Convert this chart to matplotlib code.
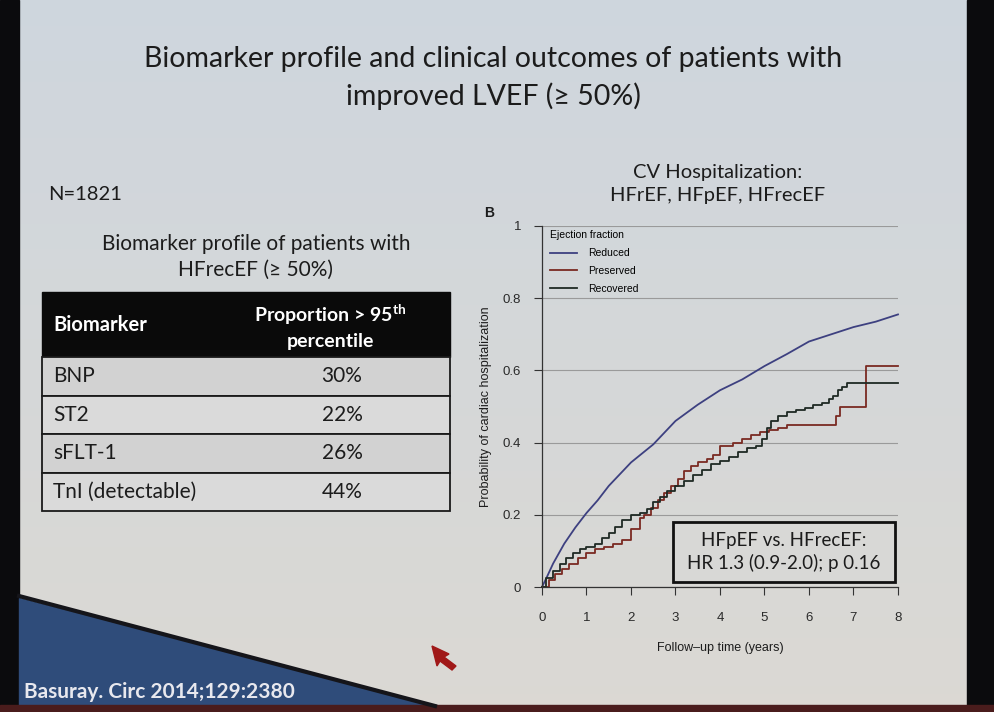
import numpy as np
import matplotlib.pyplot as plt
from matplotlib.patches import Rectangle, Polygon

# --- slide data ---
title = "Biomarker profile and clinical outcomes of patients with\nimproved LVEF (\u2265 50%)"
n_text = "N=1821"
table_title = "Biomarker profile of patients with\nHFrecEF (\u2265 50%)"
biomarkers = ["BNP", "ST2", "sFLT-1", "TnI (detectable)"]
proportions = ["30%", "22%", "26%", "44%"]

# --- KM curves ---
t_red = [0, 0.1, 0.25, 0.5, 0.75, 1, 1.25, 1.5, 2, 2.5, 3, 3.5, 4, 4.5, 5, 5.5, 6, 6.5, 7, 7.5, 8]
p_red = [0, 0.025, 0.065, 0.12, 0.165, 0.205, 0.24, 0.28, 0.345, 0.395, 0.46, 0.505,
         0.545, 0.575, 0.612, 0.645, 0.68, 0.70, 0.72, 0.735, 0.755]

t_pres = [0, 0.15, 0.3, 0.45, 0.6, 0.8, 1.0, 1.2, 1.4, 1.6, 1.8, 2.0, 2.2, 2.3, 2.45, 2.6,
          2.75, 2.9, 3.05, 3.2, 3.35, 3.5, 3.7, 3.85, 4.0, 4.3, 4.5, 4.7, 4.9, 5.1, 5.3, 5.5,
          6.6, 6.7, 7.27, 8.0]
p_pres = [0, 0.02, 0.035, 0.05, 0.065, 0.08, 0.095, 0.105, 0.11, 0.12, 0.13, 0.16, 0.19,
          0.2, 0.22, 0.24, 0.26, 0.28, 0.3, 0.32, 0.335, 0.345, 0.355, 0.365, 0.39, 0.40,
          0.41, 0.42, 0.43, 0.435, 0.44, 0.45, 0.475, 0.50, 0.612, 0.612]

t_rec = [0, 0.1, 0.25, 0.4, 0.55, 0.7, 0.85, 1.0, 1.2, 1.35, 1.5, 1.65, 1.8, 2.0, 2.2,
         2.35, 2.5, 2.65, 2.8, 3.0, 3.2, 3.4, 3.6, 3.8, 4.0, 4.2, 4.4, 4.6, 4.8, 4.95, 5.05,
         5.15, 5.3, 5.5, 5.7, 5.9, 6.1, 6.3, 6.45, 6.55, 6.65, 6.75, 6.85, 8.0]
p_rec = [0, 0.025, 0.045, 0.065, 0.08, 0.095, 0.105, 0.11, 0.12, 0.135, 0.15, 0.165,
         0.185, 0.2, 0.205, 0.215, 0.235, 0.25, 0.265, 0.28, 0.295, 0.31, 0.325, 0.34,
         0.35, 0.36, 0.375, 0.385, 0.39, 0.41, 0.44, 0.46, 0.475, 0.485, 0.49, 0.495,
         0.505, 0.51, 0.52, 0.53, 0.545, 0.555, 0.565, 0.565]

x_ticks = [0, 1, 2, 3, 4, 5, 6, 7, 8]
y_ticks = [0, 0.2, 0.4, 0.6, 0.8, 1.0]
y_ticklabels = ["0", "0.2", "0.4", "0.6", "0.8", "1"]

c_red = "#3d4080"
c_pres = "#7a2a22"
c_rec = "#1f2a24"
slide_font = "Lato"
fig_font = "Liberation Sans"
ink = "#1c1c1c"

fig = plt.figure(figsize=(9.95, 7.12), dpi=100)

# background layer in pixel coords
bg = fig.add_axes([0, 0, 1, 1], zorder=0)
bg.set_xlim(0, 995)
bg.set_ylim(712, 0)
bg.axis("off")
grad = np.linspace(0, 1, 256).reshape(-1, 1)
top = np.array([0.81, 0.84, 0.87])
bot = np.array([0.86, 0.85, 0.83])
img = top + (bot - top) * grad[..., None]
bg.imshow(img, extent=(0, 995, 712, 0), aspect="auto")
bg.add_patch(Rectangle((0, 0), 19, 712, color="#0b0b0d"))
bg.add_patch(Rectangle((967, 0), 28, 712, color="#0b0b0d"))
bg.add_patch(Polygon([(19, 598), (19, 706), (435, 706)], color="#2f4c7a"))
bg.plot([19, 435], [596, 706], color="#15151a", lw=3)
bg.add_patch(Rectangle((0, 705), 995, 7, color="#4a1c1c"))
bg.add_patch(Polygon([(432, 646), (449, 654), (444, 657), (456, 666), (452, 670),
                      (440, 661), (437, 666)], color="#a01818"))

# slide text
bg.text(493, 78, title, ha="center", va="center", fontsize=20.5, family=slide_font,
        color=ink, linespacing=1.5)
bg.text(48, 195, n_text, ha="left", va="center", fontsize=14.5, family=slide_font,
        color=ink)
bg.text(256, 257, table_title, ha="center", va="center", fontsize=15,
        family=slide_font, color=ink, linespacing=1.35)
bg.text(718, 184, "CV Hospitalization:\nHFrEF, HFpEF, HFrecEF", ha="center",
        va="center", fontsize=14.5, family=slide_font, color=ink, linespacing=1.45)
bg.text(489, 213, "B", ha="center", va="center", fontsize=10, weight="bold",
        family=fig_font, color=ink)
bg.text(24, 692, "Basuray. Circ 2014;129:2380", ha="left", va="center", fontsize=15,
        weight="bold", family=slide_font, color="#e8e8ee")

# table
tx0, tx1 = 42, 450
head_top, head_bot = 292, 357
row_h = 38.5
bg.add_patch(Rectangle((tx0, head_top), tx1 - tx0, head_bot - head_top, color="#0a0a0a"))
bg.text(53, 325, "Biomarker", ha="left", va="center", fontsize=14.5, weight="bold",
        family=slide_font, color="white")
bg.text(330, 326, "Proportion > 95$^{\\mathregular{th}}$\npercentile", ha="center",
        va="center", fontsize=14, weight="bold", family=slide_font, color="white",
        linespacing=1.45)
for i, (b, p) in enumerate(zip(biomarkers, proportions)):
    y0 = head_bot + i * row_h
    shade = "#d2d2d2" if i % 2 == 0 else "#dadada"
    bg.add_patch(Rectangle((tx0, y0), tx1 - tx0, row_h, facecolor=shade,
                           edgecolor="#1a1a1a", lw=1.3))
    bg.text(53, y0 + row_h / 2, b, ha="left", va="center", fontsize=15,
            family=slide_font, color=ink)
    bg.text(342, y0 + row_h / 2, p, ha="center", va="center", fontsize=15,
            family=slide_font, color=ink)

# KM plot
ax = fig.add_axes([542 / 995, 1 - 587 / 712, 356 / 995, 361 / 712], zorder=2)
ax.patch.set_alpha(0)
ax.plot(t_red, p_red, color=c_red, lw=1.3, label="Reduced", clip_on=False)
ax.plot(t_pres, p_pres, color=c_pres, lw=1.3, drawstyle="steps-post",
        label="Preserved", clip_on=False)
ax.plot(t_rec, p_rec, color=c_rec, lw=1.3, drawstyle="steps-post",
        label="Recovered", clip_on=False)
ax.set_xlim(0, 8)
ax.set_ylim(0, 1)
ax.set_xticks(x_ticks)
ax.set_yticks(y_ticks)
ax.set_yticklabels(y_ticklabels)
for sp in ["top", "right"]:
    ax.spines[sp].set_visible(False)
for sp in ["left", "bottom"]:
    ax.spines[sp].set_color("#333333")
    ax.spines[sp].set_linewidth(0.9)
ax.yaxis.grid(True, color="#9a9a9a", lw=0.8)
ax.set_axisbelow(True)
ax.tick_params(axis="x", direction="out", length=6, pad=12, labelsize=9.5,
               color="#333333", labelcolor="#2a2a2a")
ax.tick_params(axis="y", direction="out", length=6, pad=9, labelsize=9.5,
               color="#333333", labelcolor="#2a2a2a")
for lab in ax.get_xticklabels() + ax.get_yticklabels():
    lab.set_family(fig_font)
ax.set_xlabel("Follow\u2013up time (years)", fontsize=9, family=fig_font,
              color=ink, labelpad=13)
ax.set_ylabel("Probability of cardiac hospitalization", fontsize=9, family=fig_font,
              color=ink, labelpad=8)
leg = ax.legend(loc="upper left", bbox_to_anchor=(0.005, 1.005), frameon=False,
                title="Ejection fraction", prop={"family": fig_font, "size": 7.5},
                handlelength=2.6, handletextpad=1.1, labelspacing=0.75,
                borderaxespad=0.2)
leg.get_title().set_fontsize(7.5)
leg.get_title().set_family(fig_font)
leg._legend_box.align = "left"

# HR annotation box
ax.add_patch(Rectangle((0.368, 0.014), 0.624, 0.166, transform=ax.transAxes,
                       facecolor="#d8d8d6", edgecolor="#111111", lw=2, zorder=3,
                       clip_on=False))
ax.text(0.68, 0.097, "HFpEF vs. HFrecEF:\nHR 1.3 (0.9-2.0); p 0.16",
        transform=ax.transAxes, ha="center", va="center", fontsize=13.5,
        family=slide_font, color=ink, linespacing=1.35, zorder=4)

fig.savefig("out.png", dpi=100)
